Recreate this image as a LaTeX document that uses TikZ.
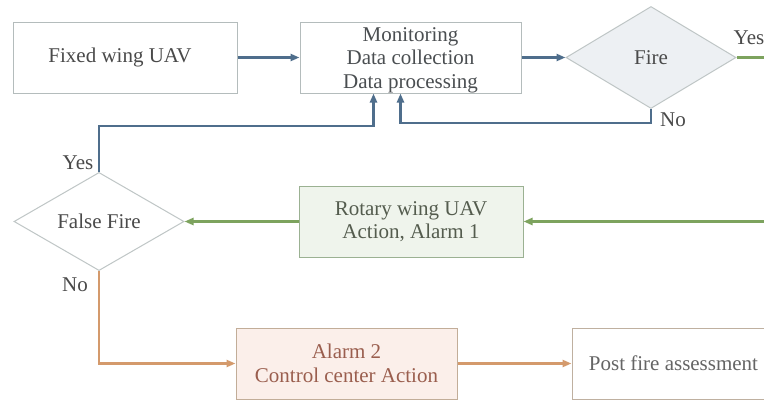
\documentclass[tikz,border=0pt]{standalone}
\usepackage{fontspec}
\setmainfont{Liberation Serif}
\usetikzlibrary{shapes.geometric,arrows.meta}

\definecolor{flowblue}{HTML}{4F6E8C}
\definecolor{flowgreen}{HTML}{7DA35E}
\definecolor{floworange}{HTML}{D49A6C}
\definecolor{boxline}{HTML}{B4BCBC}
\definecolor{txtgrey}{HTML}{4A4A4A}
\definecolor{alarmfill}{HTML}{FBEFEA}
\definecolor{alarmtext}{HTML}{9A5E4E}

\tikzset{
  base/.style={font=\fontsize{21}{23.5}\selectfont, text=txtgrey, align=center, line width=1pt, inner sep=0pt},
  procbox/.style={base, draw=boxline, rectangle, minimum width=#1, minimum height=71},
  decision/.style={base, draw=boxline!85, diamond, inner sep=0pt},
  flow/.style={line width=2.6pt, -{Triangle[length=9pt,width=7pt]}},
  lbl/.style={font=\fontsize{21}{23.5}\selectfont, text=txtgrey, inner sep=0pt}
}

\begin{document}
\begin{tikzpicture}[x=1pt,y=-1pt]
\useasboundingbox (0,0) rectangle (764,402);
\fill[white] (0,0) rectangle (764,402);
\clip (0,0) rectangle (764,402);

% process boxes
\node[procbox=224, fill=white] (fixed) at (125,57.5) {\hspace*{-10pt}Fixed wing UAV};
\node[procbox=221, fill=white] (monitor) at (410.5,57.5) {};
\node[base, text=txtgrey!90!flowblue] (monitortext) at (410.5,60)
  {Monitoring\\Data collection\\Data processing};
\node[procbox=224, fill=flowgreen!12, draw=flowgreen!45!boxline, text=txtgrey!80!flowgreen] (rotary) at (411,221.5)
  {Rotary wing UAV\\Action, Alarm 1};
\node[procbox=221, fill=alarmfill, draw=floworange!45!boxline, text=alarmtext] (alarm) at (346.5,363.5)
  {Alarm 2\\Control center Action};
\node[procbox=203, fill=white, draw=floworange!35!boxline, text=txtgrey!85] (post) at (673.5,363.5)
  {Post fire assessment};

% decisions
\node[decision, fill=flowblue!10, minimum width=170, minimum height=102] (fire) at (651,57.5) {Fire};
\node[decision, fill=white, minimum width=170, minimum height=98] (falsefire) at (99,221.5) {False Fire};

% blue monitoring loop
\draw[flow, flowblue] (fixed.east) -- (monitor.west);
\draw[flow, flowblue] (monitor.east) -- (fire.west);
\draw[flow, flowblue] (fire.south) -- ++(0,14) -| ([xshift=-10]monitor.south);
\draw[flow, flowblue] (falsefire.north) -- ++(0,-46) -| ([xshift=-37]monitor.south);

% green branch: fire confirmed
\coordinate (rturn) at (790,57.5);
\draw[flow, flowgreen] (fire.east) -- (rturn) |- (rotary.east);
\draw[flow, flowgreen] (rotary.west) -- (falsefire.east);

% orange branch: real fire
\draw[flow, floworange] (falsefire.south) |- (alarm.west);
\draw[flow, floworange] (alarm.east) -- (post.west);

% branch labels
\node[lbl] (fireyes) at (749,38) {Yes};
\node[lbl] (fireno) at (673,120) {No};
\node[lbl] (ffyes) at (78,163) {Yes};
\node[lbl] (ffno) at (75,285) {No};
\end{tikzpicture}
\end{document}
